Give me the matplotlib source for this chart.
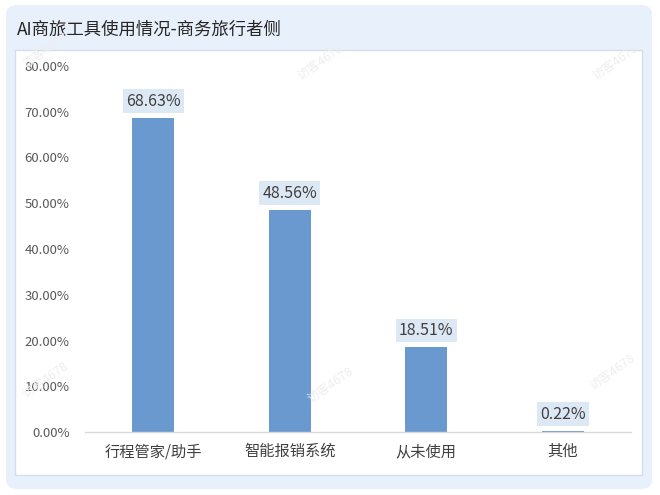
import matplotlib
matplotlib.use('Agg')
from matplotlib import pyplot as plt
from matplotlib.patches import FancyBboxPatch, Rectangle
from matplotlib.ticker import FuncFormatter

plt.rcParams['font.family'] = ['Noto Sans CJK SC', 'DejaVu Sans']

title = 'AI商旅工具使用情况-商务旅行者侧'
categories = ['行程管家/助手', '智能报销系统', '从未使用', '其他']
values = [68.63, 48.56, 18.51, 0.22]
yticks = [0, 10, 20, 30, 40, 50, 60, 70, 80]

W, H = 660, 495
fig = plt.figure(figsize=(6.6, 4.95), dpi=100)
fig.patch.set_facecolor('white')

# outer light blue panel
fig.patches.append(FancyBboxPatch((6 / W, 6 / H), 646 / W, 484 / H,
                                  boxstyle='round,pad=0,rounding_size=0.018',
                                  transform=fig.transFigure, facecolor='#e8f0fb',
                                  edgecolor='none', zorder=-2))
# inner white box
fig.patches.append(Rectangle((15 / W, 20 / H), 627 / W, 425 / H,
                             transform=fig.transFigure, facecolor='white',
                             edgecolor='#d6dde8', linewidth=1, zorder=-1))

fig.text(17 / W, 1 - 30 / H, title, fontsize=12.5, color='#262626',
         va='center', ha='left')

ax = fig.add_axes([85 / W, 1 - 432 / H, 546 / W, 366 / H])
ax.set_facecolor('none')
x = range(len(categories))
ax.bar(x, values, width=0.31, color='#6a99cf', zorder=2)
ax.set_xlim(-0.5, len(categories) - 0.5)
ax.set_ylim(0, 80)
ax.set_yticks(yticks)
ax.yaxis.set_major_formatter(FuncFormatter(lambda v, p: f'{v:.2f}%'))
ax.set_xticks(list(x))
ax.set_xticklabels(categories, fontsize=11, color='#404040')
ax.tick_params(axis='y', length=0, labelsize=9.5, labelcolor='#595959', pad=11)
ax.tick_params(axis='x', length=0, pad=8)
for s in ['top', 'right', 'left']:
    ax.spines[s].set_visible(False)
ax.spines['bottom'].set_color('#d9d9d9')
ax.spines['bottom'].set_linewidth(1)

for i, v in enumerate(values):
    ax.annotate(f'{v:.2f}%', (i, v), xytext=(0, 6), textcoords='offset points',
                ha='center', va='bottom', fontsize=11.5, color='#404040',
                bbox=dict(boxstyle='square,pad=0.2', facecolor='#dde8f5',
                          edgecolor='none'), zorder=3)

# faint watermarks
for wx, wy in [(45, 50), (320, 62), (615, 62), (45, 380), (330, 385), (612, 372)]:
    fig.text(wx / W, 1 - wy / H, '访客4678', fontsize=9, color='#eeeeee',
             rotation=35, ha='center', va='center', zorder=5)

fig.savefig('out.png', dpi=100)
